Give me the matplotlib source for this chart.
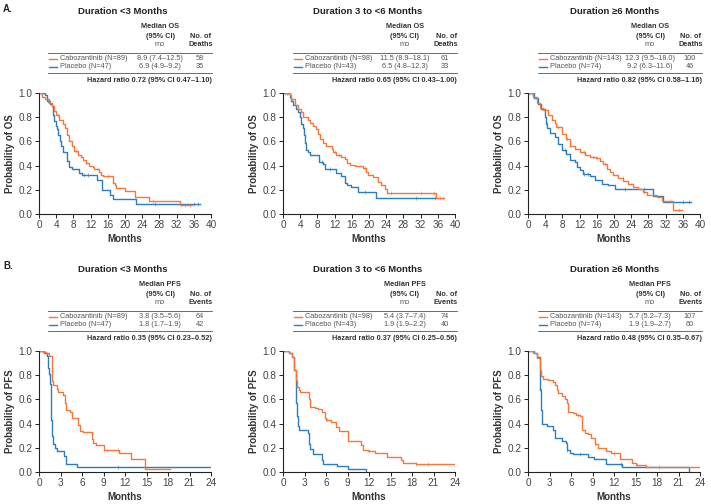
import numpy as np
import matplotlib
matplotlib.use("Agg")
import matplotlib.pyplot as plt
from matplotlib.lines import Line2D

plt.rcParams['font.family'] = ['Liberation Sans', 'DejaVu Sans']

ORANGE = '#F4783A'
BLUE = '#2A7DBE'
W, H = 711, 504

# ---- data (KM step points: time in months, survival) ----
titles = ["Duration <3 Months", "Duration 3 to <6 Months", "Duration \u22656 Months"]
n_cabo = [89, 98, 143]
n_pbo = [47, 43, 74]

os_med_cabo = ["8.9 (7.4\u201312.5)", "11.5 (8.9\u201318.1)", "12.3 (9.5\u201318.0)"]
os_med_pbo = ["6.9 (4.9\u20139.2)", "6.5 (4.8\u201312.3)", "9.2 (6.3\u201311.6)"]
os_deaths_cabo = [58, 61, 100]
os_deaths_pbo = [35, 33, 46]
os_hr = ["0.72 (95% CI 0.47\u20131.10)", "0.65 (95% CI 0.43\u20131.00)", "0.82 (95% CI 0.58\u20131.16)"]

pfs_med_cabo = ["3.8 (3.5\u20135.6)", "5.4 (3.7\u20137.4)", "5.7 (5.2\u20137.3)"]
pfs_med_pbo = ["1.8 (1.7\u20131.9)", "1.9 (1.9\u20132.2)", "1.9 (1.9\u20132.7)"]
pfs_events_cabo = [64, 74, 107]
pfs_events_pbo = [42, 40, 60]
pfs_hr = ["0.35 (95% CI 0.23\u20130.52)", "0.37 (95% CI 0.25\u20130.56)", "0.48 (95% CI 0.35\u20130.67)"]

os_lt3_cabo_t = [0, 0.8, 1.5, 2.3, 3.0, 3.5, 3.9, 4.7, 5.5, 6.1, 6.4, 7.0, 7.6, 8.2, 9.0, 9.7, 10.3, 11.0, 11.7, 12.5,
                 12.9, 14.0, 14.4, 14.8, 17.2, 17.6, 18.0, 20.0, 22.3, 25.6, 32.8, 35.5]
os_lt3_cabo_s = [1.0, 0.97, 0.95, 0.92, 0.89, 0.85, 0.82, 0.78, 0.74, 0.71, 0.65, 0.60, 0.56, 0.52, 0.49, 0.47, 0.45, 0.42,
                 0.40, 0.39, 0.37, 0.35, 0.32, 0.31, 0.26, 0.24, 0.215, 0.19, 0.14, 0.11, 0.074, 0.074]
os_lt3_cabo_cens = [0.5, 2.5, 4.5, 8.5, 11.0, 13.5, 16.0, 26.5, 34.0, 35.0]
os_lt3_pbo_t = [0, 1.5, 1.95, 2.5, 3.0, 3.3, 3.5, 3.9, 4.3, 4.5, 4.8, 5.2, 5.5, 6.6, 6.9, 7.6, 9.2, 10.1, 13.6, 14.7,
                16.4, 17.2, 22.5, 37.4]
os_lt3_pbo_s = [1.0, 0.98, 0.93, 0.91, 0.89, 0.82, 0.77, 0.73, 0.70, 0.65, 0.60, 0.56, 0.51, 0.44, 0.39, 0.37, 0.34, 0.32,
                0.28, 0.20, 0.155, 0.12, 0.08, 0.08]
os_lt3_pbo_cens = [0.8, 2.2, 10.5, 11.5, 27.0, 36.0, 37.0]

os_36_cabo_t = [0, 1.55, 1.9, 2.7, 3.5, 4.3, 4.7, 5.8, 6.2, 7.0, 7.6, 8.2, 8.5, 9.3, 10.1, 11.3, 11.7, 12.4, 13.6, 14.4,
                14.9, 15.5, 16.7, 18.6, 19.3, 19.8, 21.0, 22.1, 22.9, 23.7, 24.2, 35.6, 37.5]
os_36_cabo_s = [1.0, 0.98, 0.95, 0.90, 0.87, 0.84, 0.80, 0.78, 0.755, 0.73, 0.70, 0.66, 0.62, 0.59, 0.56, 0.54, 0.51, 0.49,
                0.475, 0.455, 0.42, 0.405, 0.395, 0.38, 0.35, 0.32, 0.305, 0.265, 0.24, 0.21, 0.175, 0.135, 0.135]
os_36_cabo_cens = [0.5, 1.2, 12.0, 13.0, 19.0, 25.0, 32.0, 35.0, 36.5, 37.2]
os_36_pbo_t = [0, 1.55, 1.9, 2.3, 3.0, 3.5, 4.0, 4.3, 4.7, 4.8, 5.1, 5.4, 5.8, 6.2, 8.4, 9.3, 9.7, 12.4, 13.6, 14.4,
               14.8, 15.9, 17.5, 21.6, 35.5]
os_36_pbo_s = [1.0, 0.97, 0.93, 0.90, 0.87, 0.84, 0.80, 0.74, 0.71, 0.65, 0.59, 0.53, 0.51, 0.49, 0.43, 0.41, 0.37, 0.34,
               0.31, 0.26, 0.24, 0.22, 0.18, 0.135, 0.135]
os_36_pbo_cens = [1.0, 9.0, 11.0, 19.0, 31.0, 35.3]

os_ge6_cabo_t = [0, 1.2, 2.0, 2.8, 3.5, 4.7, 5.5, 6.2, 6.6, 7.8, 8.9, 9.7, 10.9, 12.0, 13.2, 14.4, 15.8, 16.7, 17.5, 18.3,
                 19.0, 19.8, 21.0, 22.1, 23.3, 24.5, 25.6, 26.8, 27.6, 29.9, 31.1, 33.8, 35.7]
os_ge6_cabo_s = [1.0, 0.97, 0.915, 0.88, 0.86, 0.82, 0.78, 0.75, 0.715, 0.66, 0.62, 0.565, 0.54, 0.51, 0.49, 0.475, 0.465,
                 0.44, 0.415, 0.375, 0.35, 0.32, 0.30, 0.275, 0.25, 0.225, 0.21, 0.185, 0.16, 0.14, 0.11, 0.035, 0.035]
os_ge6_cabo_cens = [0.5, 7.0, 9.0, 13.0, 15.0, 16.0, 18.0, 22.0, 27.0, 33.0, 35.0]
os_ge6_pbo_t = [0, 1.5, 2.3, 3.1, 3.9, 4.2, 4.5, 5.0, 6.2, 7.0, 8.0, 8.9, 9.7, 10.9, 11.3, 12.0, 12.7, 14.5, 15.5, 17.1,
                18.6, 20.2, 29.1, 31.5, 38.0]
os_ge6_pbo_s = [1.0, 0.96, 0.91, 0.87, 0.80, 0.74, 0.71, 0.67, 0.64, 0.58, 0.53, 0.50, 0.45, 0.43, 0.39, 0.36, 0.33, 0.31,
                0.28, 0.25, 0.24, 0.205, 0.15, 0.10, 0.10]
os_ge6_pbo_cens = [1.0, 4.4, 8.5, 13.0, 14.0, 22.5, 27.0, 36.0, 37.5]

pfs_lt3_cabo_t = [0, 0.6, 1.0, 1.4, 1.77, 1.85, 2.0, 2.5, 2.7, 3.4, 3.6, 3.7, 4.3, 4.6, 5.5, 5.7, 6.2, 7.35, 7.6, 8.0,
                  9.0, 11.1, 12.9, 14.8, 18.3]
pfs_lt3_cabo_s = [1.0, 0.99, 0.98, 0.96, 0.85, 0.75, 0.72, 0.69, 0.66, 0.64, 0.57, 0.51, 0.50, 0.45, 0.39, 0.34, 0.33,
                  0.27, 0.24, 0.22, 0.18, 0.16, 0.11, 0.027, 0.027]
pfs_lt3_cabo_cens = [1.0, 9.0, 11.0]
pfs_lt3_pbo_t = [0, 0.7, 1.07, 1.3, 1.44, 1.5, 1.63, 1.72, 1.86, 2.0, 2.2, 2.56, 3.5, 3.8, 5.35, 24.1]
pfs_lt3_pbo_s = [1.0, 0.98, 0.96, 0.86, 0.81, 0.73, 0.62, 0.43, 0.30, 0.23, 0.20, 0.17, 0.13, 0.068, 0.045, 0.045]
pfs_lt3_pbo_cens = [11.0]

pfs_36_cabo_t = [0, 0.8, 1.3, 1.5, 1.6, 1.75, 1.94, 2.2, 2.4, 3.6, 3.8, 4.4, 4.85, 5.5, 5.8, 6.0, 6.7, 7.4, 7.75, 9.0,
                 10.85, 11.1, 11.8, 12.9, 14.5, 16.4, 16.8, 18.5, 24.0]
pfs_36_cabo_s = [1.0, 0.98, 0.95, 0.90, 0.84, 0.76, 0.70, 0.68, 0.66, 0.60, 0.54, 0.53, 0.52, 0.50, 0.445, 0.43, 0.41,
                 0.37, 0.34, 0.26, 0.22, 0.185, 0.17, 0.16, 0.12, 0.10, 0.075, 0.068, 0.0]
pfs_36_cabo_cens = [6.2, 12.0, 18.6, 20.2]
pfs_36_pbo_t = [0, 0.9, 1.3, 1.52, 1.75, 1.94, 2.08, 2.3, 3.46, 3.6, 3.83, 4.15, 5.45, 5.6, 7.5, 9.0, 11.6]
pfs_36_pbo_s = [1.0, 0.98, 0.95, 0.84, 0.57, 0.46, 0.38, 0.35, 0.32, 0.23, 0.19, 0.15, 0.10, 0.07, 0.05, 0.025, 0.0]
pfs_36_pbo_cens = []

pfs_ge6_cabo_t = [0, 0.7, 1.2, 1.63, 1.77, 2.1, 2.8, 3.5, 3.7, 4.0, 4.2, 4.7, 5.1, 5.4, 5.6, 6.3, 6.7, 7.2, 7.5, 7.6,
                  7.9, 8.4, 8.85, 9.3, 9.8, 10.95, 11.65, 12.8, 14.45, 15.1, 16.5, 24.0]
pfs_ge6_cabo_s = [1.0, 0.98, 0.94, 0.84, 0.79, 0.77, 0.76, 0.745, 0.72, 0.68, 0.65, 0.63, 0.60, 0.57, 0.50, 0.49, 0.47,
                  0.46, 0.40, 0.35, 0.32, 0.31, 0.28, 0.23, 0.20, 0.17, 0.155, 0.11, 0.077, 0.057, 0.04, 0.04]
pfs_ge6_cabo_cens = [7.0, 9.3, 12.0, 15.2, 18.3]
pfs_ge6_pbo_t = [0, 0.8, 1.3, 1.63, 1.72, 1.82, 1.96, 2.65, 3.5, 3.8, 4.7, 5.3, 5.45, 5.8, 6.3, 8.4, 9.2, 10.95, 13.05,
                 22.4]
pfs_ge6_pbo_s = [1.0, 0.98, 0.95, 0.84, 0.68, 0.51, 0.40, 0.38, 0.345, 0.28, 0.26, 0.24, 0.185, 0.16, 0.145, 0.125,
                 0.104, 0.063, 0.04, 0.0]
pfs_ge6_pbo_cens = [1.75, 5.5, 7.2, 13.0]

os_curves = [
    (os_lt3_cabo_t, os_lt3_cabo_s, os_lt3_cabo_cens, os_lt3_pbo_t, os_lt3_pbo_s, os_lt3_pbo_cens),
    (os_36_cabo_t, os_36_cabo_s, os_36_cabo_cens, os_36_pbo_t, os_36_pbo_s, os_36_pbo_cens),
    (os_ge6_cabo_t, os_ge6_cabo_s, os_ge6_cabo_cens, os_ge6_pbo_t, os_ge6_pbo_s, os_ge6_pbo_cens),
]
pfs_curves = [
    (pfs_lt3_cabo_t, pfs_lt3_cabo_s, pfs_lt3_cabo_cens, pfs_lt3_pbo_t, pfs_lt3_pbo_s, pfs_lt3_pbo_cens),
    (pfs_36_cabo_t, pfs_36_cabo_s, pfs_36_cabo_cens, pfs_36_pbo_t, pfs_36_pbo_s, pfs_36_pbo_cens),
    (pfs_ge6_cabo_t, pfs_ge6_cabo_s, pfs_ge6_cabo_cens, pfs_ge6_pbo_t, pfs_ge6_pbo_s, pfs_ge6_pbo_cens),
]

fig = plt.figure(figsize=(W / 100, H / 100), dpi=100)


def ftext(x, y, s, **kw):
    # x, y in pixels from the top-left corner
    fig.text(x / W, 1 - y / H, s, va='center', **kw)


def fline(x0, x1, y, color='#555555', lw=0.6):
    fig.add_artist(Line2D([x0 / W, x1 / W], [1 - y / H, 1 - y / H], transform=fig.transFigure,
                          color=color, lw=lw))


def km(ax, t, s, cens, color):
    ax.step(t, s, where='post', color=color, lw=1.0)
    t = np.array(t)
    s = np.array(s)
    if len(cens):
        idx = np.searchsorted(t, cens, side='right') - 1
        ax.plot(cens, s[idx], ls='none', marker='|', ms=3.5, mew=0.7, color=color, alpha=0.55)


def panel(col, row, curves, endpoint, xmax, xstep, meds_c, meds_p, ev_c, ev_p, hr, ev_word):
    dx = [0, 245, 490][col]
    dy = [0, 258][row]
    ax_left = [39, 283, 528][col]
    ax_top = 93 + dy
    ax = fig.add_axes([ax_left / W, 1 - (ax_top + 121) / H, 172 / W, 121 / H])
    tc, sc, cc, tp, sp, cp = curves
    km(ax, tp, sp, cp, BLUE)
    km(ax, tc, sc, cc, ORANGE)
    ax.set_xlim(0, xmax)
    ax.set_ylim(0, 1.0)
    ax.set_xticks(np.arange(0, xmax + 1, xstep))
    ax.set_yticks(np.arange(0, 1.01, 0.2))
    ax.set_yticklabels(['%.1f' % v for v in np.arange(0, 1.01, 0.2)])
    ax.spines[['top', 'right']].set_visible(False)
    for sp_ in ax.spines.values():
        sp_.set_linewidth(0.8)
        sp_.set_color('#222222')
    ax.tick_params(labelsize=7.2, colors='#222222', labelcolor='#444444', length=3, width=0.7, pad=1.5)
    ax.set_xlabel('Months', fontsize=7, fontweight='bold', color='#333333', labelpad=3)
    ax.set_ylabel('Probability of ' + endpoint, fontsize=7, fontweight='bold', color='#333333', labelpad=3)
    ax.patch.set_visible(False)

    # title and the small table above the curve
    ftext(123 + dx + (2 if col == 2 else 0), 12 + dy, titles[col], ha='center', fontsize=6.8,
          fontweight='bold', color='#222222')
    mc = 160 + dx
    dc = 201 + dx
    ftext(mc, 27 + dy, 'Median ' + endpoint, ha='center', fontsize=5.3, fontweight='bold', color='#333333')
    ftext(mc, 37 + dy, '(95% CI)', ha='center', fontsize=5.3, fontweight='bold', color='#333333')
    ftext(mc, 45 + dy, 'mo', ha='center', fontsize=5.3, color='#555555')
    ftext(dc, 37 + dy, 'No. of', ha='center', fontsize=5.3, fontweight='bold', color='#333333')
    ftext(dc, 45 + dy, ev_word, ha='center', fontsize=5.3, fontweight='bold', color='#333333')
    fline(48 + dx, 212 + dx, 53 + dy)
    fline(48 + dx, 212 + dx, 73 + dy)
    fline(49 + dx, 57 + dx, 59 + dy, color=ORANGE, lw=1.0)
    fline(49 + dx, 57 + dx, 67 + dy, color=BLUE, lw=1.0)
    ftext(60 + dx, 59 + dy, 'Cabozantinib (N=%d)' % n_cabo[col], ha='left', fontsize=5.3, color='#555555')
    ftext(60 + dx, 67 + dy, 'Placebo (N=%d)' % n_pbo[col], ha='left', fontsize=5.3, color='#555555')
    ftext(mc, 59 + dy, meds_c[col], ha='center', fontsize=5.3, color='#555555')
    ftext(mc, 67 + dy, meds_p[col], ha='center', fontsize=5.3, color='#555555')
    ftext(dc - 1, 59 + dy, str(ev_c[col]), ha='center', fontsize=5.3, color='#555555')
    ftext(dc - 1, 67 + dy, str(ev_p[col]), ha='center', fontsize=5.3, color='#555555')
    ftext(212 + dx, 80 + dy, 'Hazard ratio ' + hr[col], ha='right', fontsize=5.3, fontweight='bold',
          color='#333333')


for i in range(3):
    panel(i, 0, os_curves[i], 'OS', 40, 4, os_med_cabo, os_med_pbo, os_deaths_cabo, os_deaths_pbo, os_hr, 'Deaths')
    panel(i, 1, pfs_curves[i], 'PFS', 24, 3, pfs_med_cabo, pfs_med_pbo, pfs_events_cabo, pfs_events_pbo, pfs_hr,
          'Events')

ftext(3, 9, 'A.', ha='left', fontsize=7, fontweight='bold', color='#222222')
ftext(3, 266, 'B.', ha='left', fontsize=7, fontweight='bold', color='#222222')

fig.savefig('out.png', dpi=100)
